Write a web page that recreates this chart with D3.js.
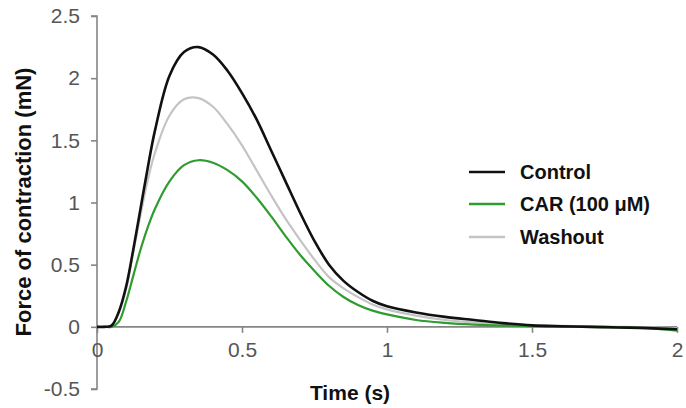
<!DOCTYPE html>
<html>
<head>
<meta charset="utf-8">
<script src="https://cdn.jsdelivr.net/npm/d3@7"></script>
<style>
  body { margin: 0; background: #fff; }
  svg { display: block; }
  text { font-family: "Liberation Sans", Arial, sans-serif; }
</style>
</head>
<body>
<svg id="chart" width="686" height="408"></svg>
<script>
// ---- data ----
const time = [0, 0.025, 0.05, 0.075, 0.1, 0.125, 0.15, 0.175, 0.2, 0.25, 0.3, 0.35, 0.4, 0.45, 0.5, 0.55, 0.6, 0.65, 0.7, 0.75, 0.8, 0.85, 0.9, 0.95, 1.0, 1.1, 1.2, 1.3, 1.4, 1.5, 1.6, 1.7, 1.8, 1.9, 2.0];
const control = [0, 0, 0.01, 0.12, 0.32, 0.62, 0.95, 1.28, 1.58, 2.02, 2.21, 2.25, 2.19, 2.06, 1.88, 1.67, 1.42, 1.17, 0.92, 0.69, 0.50, 0.37, 0.28, 0.21, 0.165, 0.115, 0.08, 0.055, 0.03, 0.012, 0.005, 0, -0.005, -0.01, -0.02];
const car = [0, 0, 0, 0.04, 0.20, 0.41, 0.62, 0.80, 0.95, 1.17, 1.30, 1.34, 1.32, 1.26, 1.17, 1.04, 0.89, 0.73, 0.58, 0.45, 0.33, 0.24, 0.175, 0.13, 0.10, 0.055, 0.032, 0.018, 0.01, 0.005, 0, 0, -0.005, -0.01, -0.03];
const washout = [0, 0, 0.01, 0.11, 0.30, 0.60, 0.90, 1.18, 1.40, 1.70, 1.83, 1.84, 1.77, 1.63, 1.46, 1.26, 1.06, 0.87, 0.70, 0.54, 0.40, 0.31, 0.24, 0.18, 0.14, 0.09, 0.055, 0.035, 0.02, 0.01, 0.008, 0.004, 0, -0.005, -0.01];
const yTicks = [-0.5, 0, 0.5, 1, 1.5, 2, 2.5];
const xTicks = [0, 0.5, 1, 1.5, 2];
const seriesNames = ["Control", "CAR (100 μM)", "Washout"];
const seriesColors = ["#111111", "#2e9c2e", "#c4c4c4"];

const series = [
  { name: seriesNames[0], values: control, color: seriesColors[0], width: 2.6 },
  { name: seriesNames[1], values: car, color: seriesColors[1], width: 2.2 },
  { name: seriesNames[2], values: washout, color: seriesColors[2], width: 2.2 }
];

const svg = d3.select("#chart");
const x = d3.scaleLinear().domain([0, 2]).range([97, 677]);
const y = d3.scaleLinear().domain([-0.5, 2.5]).range([389, 16]);

const axisColor = "#858585";
const tickColor = "#555555";
const fmt = d => String(d);

// y axis
const yAxis = svg.append("g").attr("transform", `translate(${x(0)},0)`)
  .call(d3.axisLeft(y).tickValues(yTicks).tickSize(6).tickPadding(11).tickFormat(fmt));
yAxis.select(".domain").attr("stroke", axisColor).attr("stroke-width", 1.6).attr("d", `M-6,${y(2.5)}H0V${y(-0.5)}H-6`);
yAxis.selectAll(".tick line").attr("stroke", axisColor).attr("stroke-width", 1.6);
yAxis.selectAll(".tick text").attr("fill", tickColor).attr("font-size", 21)
  .attr("font-family", "Liberation Sans, Arial, sans-serif");

// x axis (at y = 0)
const xAxis = svg.append("g").attr("transform", `translate(0,${y(0)})`)
  .call(d3.axisBottom(x).tickValues(xTicks).tickSize(6).tickPadding(9).tickFormat(fmt));
xAxis.select(".domain").attr("stroke", axisColor).attr("stroke-width", 1.6).attr("d", `M${x(0)},0H${x(2)}`);
xAxis.selectAll(".tick line").attr("stroke", axisColor).attr("stroke-width", 1.6);
xAxis.selectAll(".tick text").attr("fill", tickColor).attr("font-size", 21)
  .attr("font-family", "Liberation Sans, Arial, sans-serif");

// lines
const line = d3.line()
  .x((d, i) => x(time[i]))
  .y(d => y(d))
  .curve(d3.curveCatmullRom.alpha(0.5));

// draw order: washout, car, control on top
[series[2], series[1], series[0]].forEach(s => {
  svg.append("path")
    .datum(s.values)
    .attr("fill", "none")
    .attr("stroke", s.color)
    .attr("stroke-width", s.width)
    .attr("stroke-linejoin", "round")
    .attr("d", line);
});

// axis titles
svg.append("text")
  .attr("x", 350).attr("y", 400)
  .attr("text-anchor", "middle")
  .attr("font-size", 21).attr("font-weight", "bold").attr("fill", "#111")
  .text("Time (s)");

svg.append("text")
  .attr("transform", `translate(31,202) rotate(-90)`)
  .attr("text-anchor", "middle")
  .attr("font-size", 22).attr("font-weight", "bold").attr("fill", "#111")
  .text("Force of contraction (mN)");

// legend
const legend = svg.append("g");
const legendY = [172, 204, 237];
series.forEach((s, i) => {
  legend.append("line")
    .attr("x1", 469).attr("x2", 505)
    .attr("y1", legendY[i]).attr("y2", legendY[i])
    .attr("stroke", s.color).attr("stroke-width", i === 0 ? 2.6 : 2.4);
  legend.append("text")
    .attr("x", 520).attr("y", legendY[i])
    .attr("dy", "0.35em")
    .attr("font-size", 20).attr("font-weight", "bold").attr("fill", "#111")
    .text(s.name);
});
</script>
</body>
</html>
